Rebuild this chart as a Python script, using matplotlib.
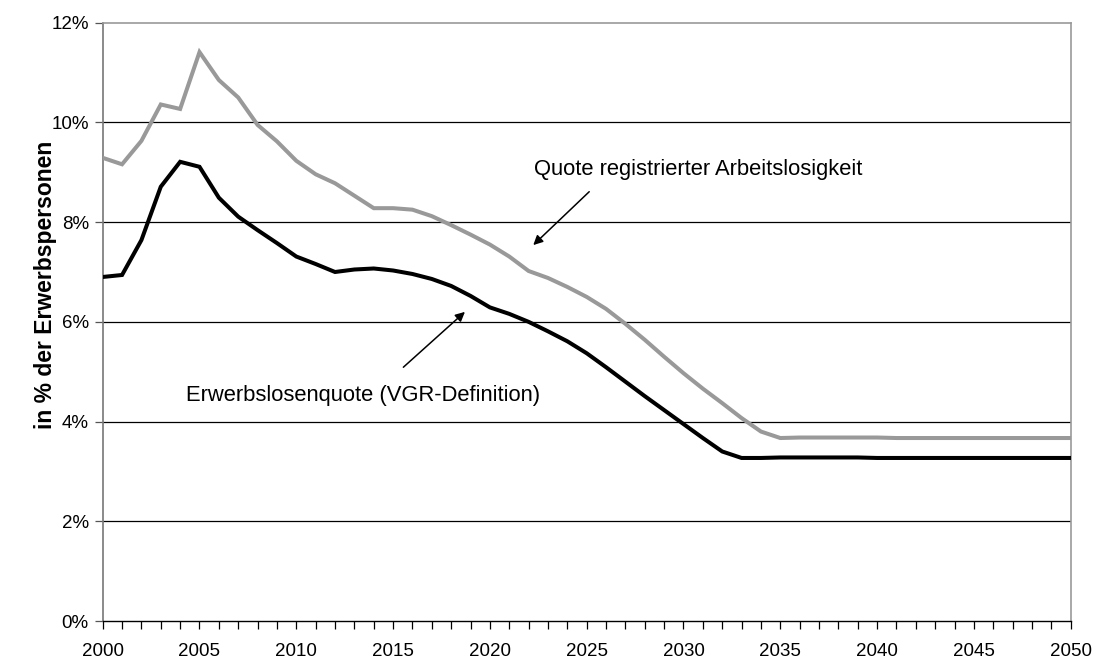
import matplotlib
matplotlib.use("Agg")
import matplotlib.pyplot as plt
from matplotlib.ticker import FixedLocator, FuncFormatter

plt.rcParams['font.family'] = ['Liberation Sans', 'DejaVu Sans']

years = list(range(2000, 2051))

erwerbslosenquote = [
    6.90, 6.94, 7.64, 8.71, 9.21, 9.11, 8.49, 8.11, 7.84, 7.58,
    7.31, 7.16, 7.00, 7.05, 7.07, 7.03, 6.96, 6.86, 6.72, 6.52,
    6.29, 6.16, 6.00, 5.81, 5.61, 5.37, 5.09, 4.80, 4.51, 4.23,
    3.95, 3.67, 3.40, 3.27, 3.27, 3.28, 3.28, 3.28, 3.28, 3.28,
    3.27, 3.27, 3.27, 3.27, 3.27, 3.27, 3.27, 3.27, 3.27, 3.27,
    3.27,
]

registrierte_quote = [
    9.29, 9.16, 9.63, 10.36, 10.27, 11.41, 10.85, 10.50, 9.95, 9.62,
    9.23, 8.96, 8.78, 8.53, 8.28, 8.28, 8.25, 8.12, 7.94, 7.75,
    7.55, 7.31, 7.02, 6.88, 6.70, 6.50, 6.26, 5.96, 5.64, 5.30,
    4.97, 4.66, 4.37, 4.07, 3.80, 3.67, 3.68, 3.68, 3.68, 3.68,
    3.68, 3.67, 3.67, 3.67, 3.67, 3.67, 3.67, 3.67, 3.67, 3.67,
    3.67,
]

y_ticks = [0, 2, 4, 6, 8, 10, 12]
x_major = [2000, 2005, 2010, 2015, 2020, 2025, 2030, 2035, 2040, 2045, 2050]

label_reg = "Quote registrierter Arbeitslosigkeit"
label_erw = "Erwerbslosenquote (VGR-Definition)"
y_label = "in % der Erwerbspersonen"

W, H = 1097, 663
fig = plt.figure(figsize=(W / 100, H / 100), dpi=100)
ax = fig.add_axes([102.7 / W, 1 - 621 / H, (1070.7 - 102.7) / W, (621 - 22.7) / H])

# gridlines
for v in y_ticks[1:-1]:
    ax.axhline(v, color='black', lw=0.9, zorder=1)

ax.plot(years, registrierte_quote, color='#999999', lw=2.9, zorder=3,
        solid_joinstyle='miter')
ax.plot(years, erwerbslosenquote, color='black', lw=2.9, zorder=4,
        solid_joinstyle='miter')

ax.set_xlim(2000, 2050)
ax.set_ylim(0, 12)

ax.xaxis.set_major_locator(FixedLocator(x_major))
ax.xaxis.set_minor_locator(FixedLocator(years))
ax.yaxis.set_major_locator(FixedLocator(y_ticks))
ax.yaxis.set_major_formatter(FuncFormatter(lambda v, p: f"{int(round(v))}%"))

ax.tick_params(axis='x', which='both', direction='out', length=6, width=0.9,
               color='black', labelsize=13.5, pad=10)
ax.tick_params(axis='y', which='major', direction='out', length=6, width=0.9,
               color='#555555', labelsize=13.5, pad=4)

for s in ['top', 'right', 'left']:
    ax.spines[s].set_color('#999999')
    ax.spines[s].set_linewidth(1.2)
ax.spines['left'].set_color('#777777')
ax.spines['bottom'].set_color('black')
ax.spines['bottom'].set_linewidth(1.0)
ax.spines['bottom'].set_zorder(5)

fig.text(46 / W, 1 - 285 / H, y_label, rotation=90, ha='center', va='center',
         fontsize=16.5, fontweight='bold')

ax.text(2030.75, 9.05, label_reg, ha='center', va='center', fontsize=15.8)
ax.text(2013.44, 4.53, label_erw, ha='center', va='center', fontsize=15.8)

arrow_kw = dict(arrowstyle='-|>', color='black', lw=1.1, mutation_scale=14,
                shrinkA=0, shrinkB=0)
ax.annotate('', xy=(2022.24, 7.54), xytext=(2025.13, 8.61), arrowprops=arrow_kw)
ax.annotate('', xy=(2018.71, 6.20), xytext=(2015.53, 5.09), arrowprops=arrow_kw)

fig.savefig('out.png', dpi=100)
